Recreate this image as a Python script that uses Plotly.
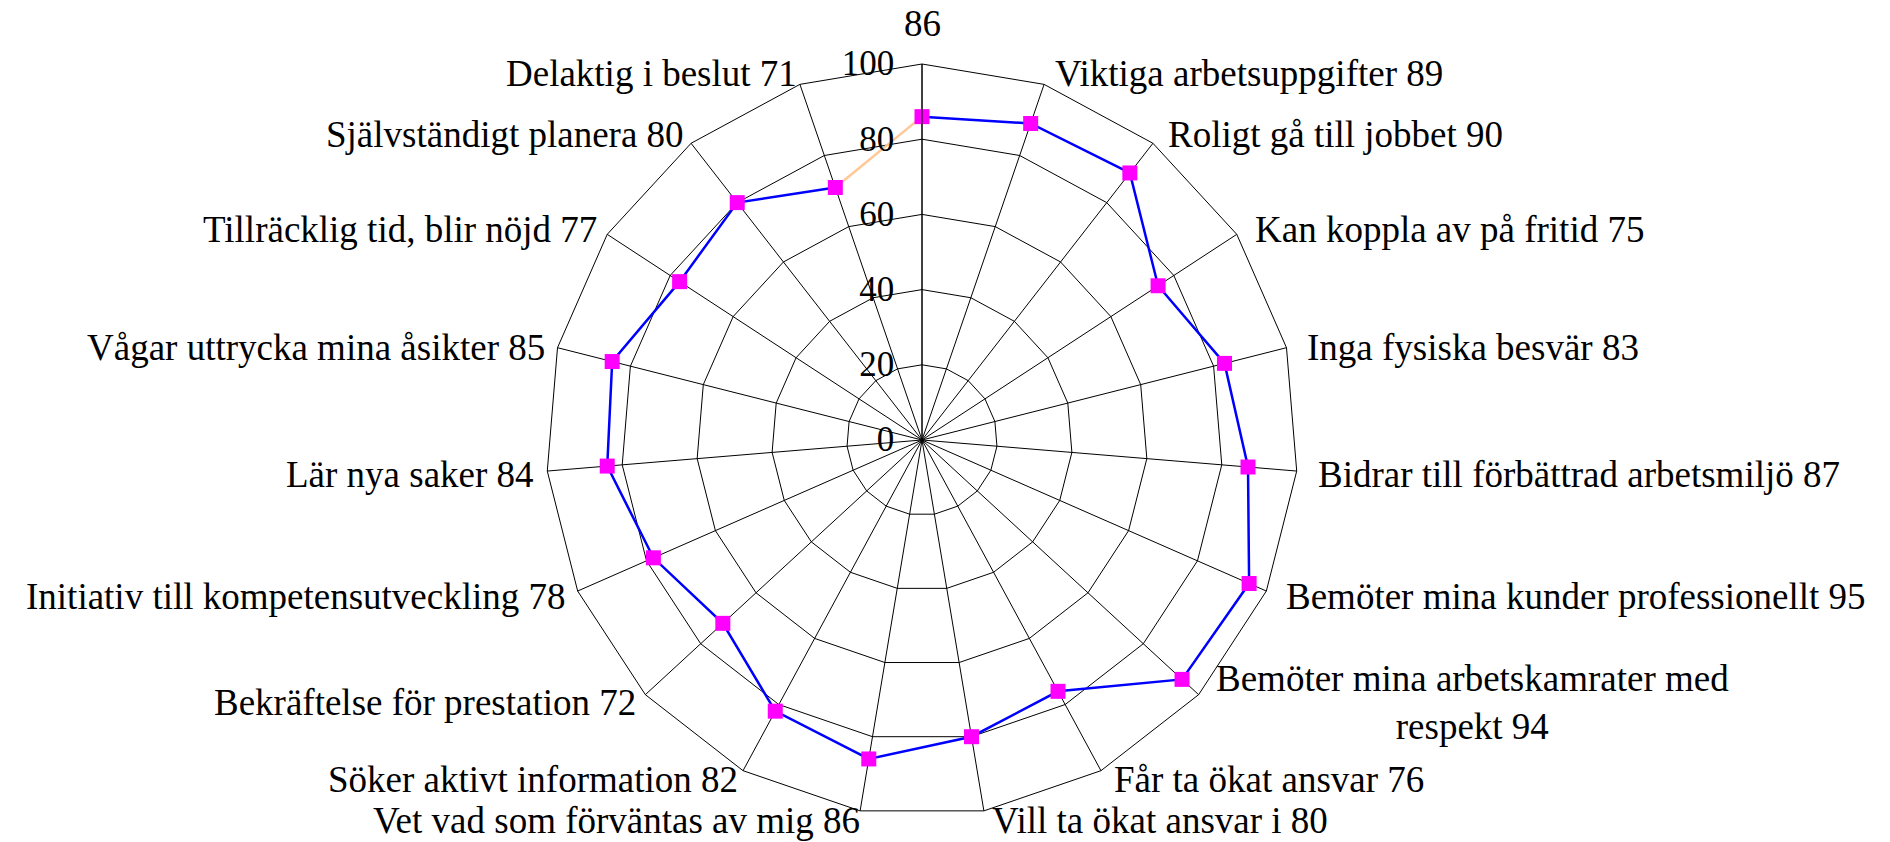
import math
import plotly.graph_objects as go

categories = [
    "",
    "Viktiga arbetsuppgifter",
    "Roligt gå till jobbet",
    "Kan koppla av på fritid",
    "Inga fysiska besvär",
    "Bidrar till förbättrad arbetsmiljö",
    "Bemöter mina kunder professionellt",
    "Bemöter mina arbetskamrater med<br>respekt",
    "Får ta ökat ansvar",
    "Vill ta ökat ansvar i",
    "Vet vad som förväntas av mig",
    "Söker aktivt information",
    "Bekräftelse för prestation",
    "Initiativ till kompetensutveckling",
    "Lär nya saker",
    "Vågar uttrycka mina åsikter",
    "Tillräcklig tid, blir nöjd",
    "Självständigt planera",
    "Delaktig i beslut",
]
values = [86, 89, 90, 75, 83, 87, 95, 94, 76, 80, 86, 82, 72, 78, 84, 85, 77, 80, 71]
radial_ticks = [0, 20, 40, 60, 80, 100]

labels = [(f"{c} {v}").strip() for c, v in zip(categories, values)]

FONT = "Liberation Serif, Times New Roman, serif"
FS = 37
W, H = 1890, 842

# polar placement (pixels)
CX, CY, R = 922, 440, 376
dom_x = [(CX - R) / W, (CX + R) / W]
dom_y = [1 - (CY + R) / H, 1 - (CY - R) / H]

fig = go.Figure()
# closing segment (last -> first) drawn in light orange
fig.add_trace(go.Scatterpolar(
    r=[values[-1], values[0]],
    theta=[labels[-1], labels[0]],
    mode="lines",
    line=dict(color="#FFC896", width=2.5),
    showlegend=False,
    hoverinfo="skip",
))
fig.add_trace(go.Scatterpolar(
    r=values,
    theta=labels,
    mode="lines+markers",
    line=dict(color="#0000FF", width=2.5),
    marker=dict(symbol="square", size=15, color="#FF00FF"),
    showlegend=False,
))

# category labels placed just outside each spoke, Excel-like
n = len(labels)
annotations = []
for i, lab in enumerate(labels):
    ang = math.radians(90 - i * 360 / n)
    ca, sa = math.cos(ang), math.sin(ang)
    if abs(ca) < 0.05 and sa > 0:
        px = CX
        py = CY - R - 18
        xa, ya = "center", "bottom"
    else:
        pad = 15
        px = CX + (R + pad) * ca + 4
        py = CY - (R + pad) * sa + 3 + (8 * sa if sa < 0 else 0)
        xa = "left" if ca > 0 else "right"
        ya = "middle"
    annotations.append(dict(
        x=px / W, y=1 - py / H, xref="paper", yref="paper",
        text=lab, showarrow=False, xanchor=xa, yanchor=ya, align="center",
        font=dict(family=FONT, size=FS, color="black"),
    ))

fig.update_layout(
    width=W,
    height=H,
    margin=dict(l=0, r=0, t=0, b=0),
    paper_bgcolor="white",
    plot_bgcolor="white",
    font=dict(family=FONT, size=FS, color="black"),
    annotations=annotations,
    polar=dict(
        domain=dict(x=dom_x, y=dom_y),
        bgcolor="white",
        gridshape="linear",
        angularaxis=dict(
            direction="clockwise",
            rotation=90,
            categoryorder="array",
            categoryarray=labels,
            showline=True,
            linecolor="black",
            linewidth=1,
            gridcolor="black",
            gridwidth=1,
            ticks="",
            showticklabels=False,
        ),
        radialaxis=dict(
            range=[0, 100],
            tickvals=radial_ticks,
            angle=90,
            side="counterclockwise",
            showline=True,
            linecolor="black",
            linewidth=1,
            gridcolor="black",
            gridwidth=1,
            ticks="outside",
            ticklen=15,
            tickcolor="rgba(0,0,0,0)",
            tickangle=90,
            tickfont=dict(family=FONT, size=35, color="black"),
        ),
    ),
)

fig.write_html(
    "out.html",
    config={"displayModeBar": False},
    post_script=["document.body.style.margin='0px';"],
)
